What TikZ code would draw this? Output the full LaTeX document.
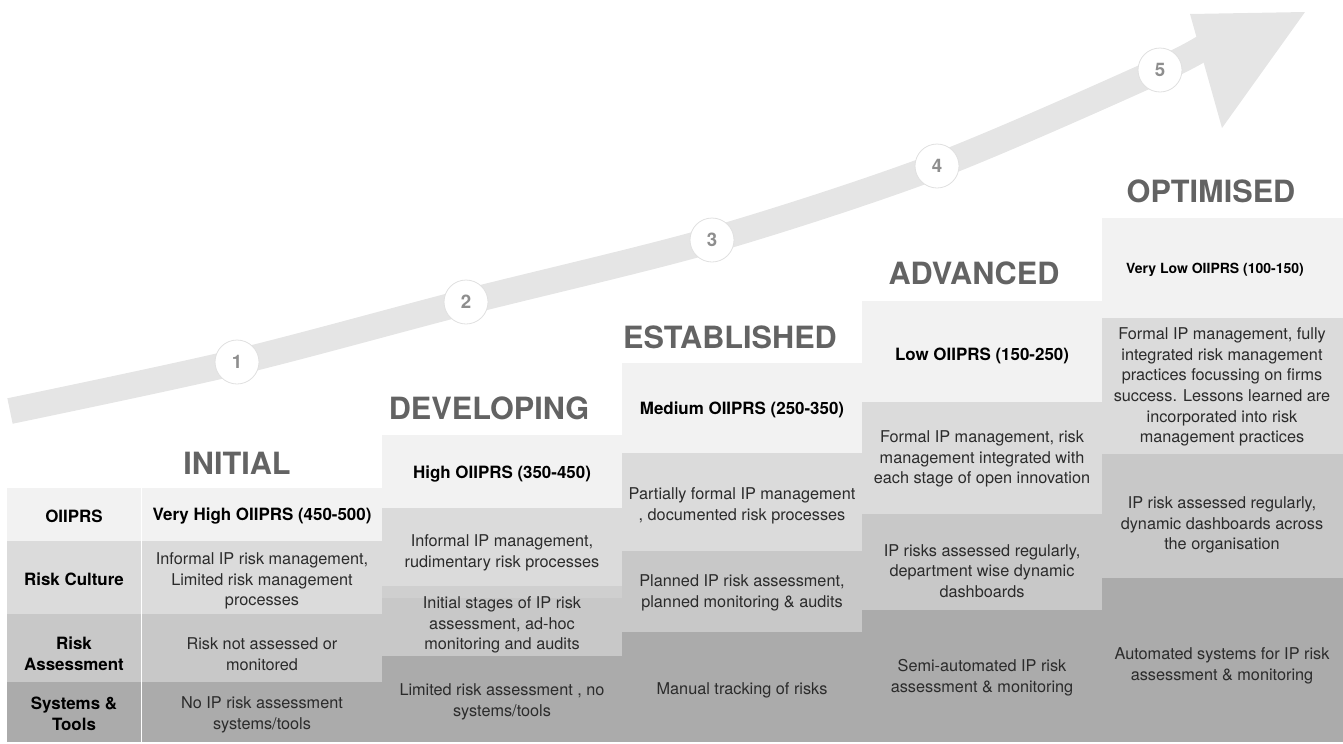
\documentclass[tikz,border=0pt]{standalone}
\usepackage{fontspec}
\setmainfont{TeX Gyre Heros}
\usepackage{tikz}
\definecolor{ArrowGrey}{HTML}{E5E5E5}
\definecolor{DotEdge}{HTML}{E0E0E0}
\definecolor{DotNumber}{HTML}{8E8E8E}
\definecolor{StageGrey}{HTML}{636363}
\definecolor{BodyText}{HTML}{2B2B2B}
\definecolor{RowScore}{HTML}{F2F2F2}
\definecolor{RowCulture}{HTML}{DBDBDB}
\definecolor{RowBand}{HTML}{CFCFCF}
\definecolor{RowAssess}{HTML}{C8C8C8}
\definecolor{RowTools}{HTML}{ABABAB}
\tikzset{
  celltext/.style={align=center,inner sep=0pt,text=BodyText,font=\fontsize{12.2}{15.5}\selectfont},
  scoretext/.style={align=center,inner sep=0pt,text=black,font=\fontsize{12.7}{15.5}\selectfont\bfseries},
  rowlabel/.style={scoretext},
  stagetitle/.style={inner sep=0pt,text=StageGrey,font=\fontsize{23}{26}\selectfont\bfseries},
  stepdot/.style={circle,fill=white,draw=DotEdge,line width=0.6pt,minimum size=33pt,inner sep=0pt,
    text=DotNumber,font=\fontsize{14}{14}\selectfont\bfseries}
}

\begin{document}
\begin{tikzpicture}[x=0.75pt,y=-0.75pt]
  \useasboundingbox (0,0) rectangle (1343,743);

  % Rising arrow
  \draw[ArrowGrey,line width=19.5pt] plot[smooth,tension=0.5] coordinates
    {(10,411) (237,362) (466,302) (712,240) (937,166) (1160,70) (1212,42)};
  \fill[ArrowGrey] (1190,14) -- (1305,12) -- (1222,128) -- cycle;

  % Step markers
  \node[stepdot] (s1) at (237,362) {1};
  \node[stepdot] (s2) at (466,302) {2};
  \node[stepdot] (s3) at (712,240) {3};
  \node[stepdot] (s4) at (937,166) {4};
  \node[stepdot] (s5) at (1160,70) {5};

  % Row labels
  \fill[RowScore]   (7,488) rectangle (141,541);
  \fill[RowCulture] (7,541) rectangle (141,614);
  \fill[RowAssess]  (7,614) rectangle (141,682);
  \fill[RowTools]   (7,682) rectangle (141,742);
  \node[rowlabel] (lscore)  at (74,516) {OIIPRS};
  \node[rowlabel] (lcult)   at (74,579) {Risk Culture};
  \node[rowlabel] (lassess) at (74,654) {Risk\\Assessment};
  \node[rowlabel] (ltools)  at (74,714) {Systems \&\\Tools};

  % Initial
  \fill[RowScore]   (142,488) rectangle (382,541);
  \fill[RowCulture] (142,541) rectangle (382,614);
  \fill[RowAssess]  (142,614) rectangle (382,682);
  \fill[RowTools]   (142,682) rectangle (382,742);
  \node[stagetitle] (t1) at (237,463) {INITIAL};
  \node[scoretext] (c1score)  at (262,516) {Very High OIIPRS (450-500)};
  \node[celltext]  (c1cult)   at (262,581) {Informal IP risk management,\\Limited risk management\\processes};
  \node[celltext]  (c1assess) at (262,654) {Risk not assessed or\\monitored};
  \node[celltext]  (c1tools)  at (262,715) {No IP risk assessment\\systems/tools};

  % Developing
  \fill[RowScore]   (382,435) rectangle (622,508);
  \fill[RowCulture] (382,508) rectangle (622,586);
  \fill[RowBand]    (382,586) rectangle (622,598);
  \fill[RowAssess]  (382,598) rectangle (622,656);
  \fill[RowTools]   (382,656) rectangle (622,742);
  \node[stagetitle] (t2) at (489,408) {DEVELOPING};
  \node[scoretext] (c2score)  at (502,474) {High OIIPRS (350-450)};
  \node[celltext]  (c2cult)   at (502,553) {Informal IP management,\\rudimentary risk processes};
  \node[celltext]  (c2assess) at (502,625) {Initial stages of IP risk\\assessment, ad-hoc\\monitoring and audits};
  \node[celltext]  (c2tools)  at (502,702) {Limited risk assessment , no\\systems/tools};

  % Established
  \fill[RowScore]   (622,363) rectangle (862,453);
  \fill[RowCulture] (622,453) rectangle (862,551);
  \fill[RowAssess]  (622,551) rectangle (862,632);
  \fill[RowTools]   (622,632) rectangle (862,742);
  \node[stagetitle] (t3) at (730,337) {ESTABLISHED};
  \node[scoretext] (c3score)  at (742,410) {Medium OIIPRS (250-350)};
  \node[celltext]  (c3cult)   at (742,506) {Partially formal IP management\\, documented risk processes};
  \node[celltext]  (c3assess) at (742,593) {Planned IP risk assessment,\\planned monitoring \& audits};
  \node[celltext]  (c3tools)  at (742,690) {Manual tracking of risks};

  % Advanced
  \fill[RowScore]   (862,301) rectangle (1102,402);
  \fill[RowCulture] (862,402) rectangle (1102,514);
  \fill[RowAssess]  (862,514) rectangle (1102,610);
  \fill[RowTools]   (862,610) rectangle (1102,742);
  \node[stagetitle] (t4) at (974,273) {ADVANCED};
  \node[scoretext] (c4score)  at (982,356) {Low OIIPRS (150-250)};
  \node[celltext]  (c4cult)   at (982,459) {Formal IP management, risk\\management integrated with\\each stage of open innovation};
  \node[celltext]  (c4assess) at (982,571) {IP risks assessed regularly,\\department wise dynamic\\dashboards};
  \node[celltext]  (c4tools)  at (982,678) {Semi-automated IP risk\\assessment \& monitoring};

  % Optimised
  \fill[RowScore]   (1102,218) rectangle (1343,318);
  \fill[RowCulture] (1102,318) rectangle (1343,454);
  \fill[RowAssess]  (1102,454) rectangle (1343,578);
  \fill[RowTools]   (1102,578) rectangle (1343,742);
  \node[stagetitle] (t5) at (1211,191) {OPTIMISED};
  \node[scoretext,font=\fontsize{10.5}{13}\selectfont\bfseries] (c5score) at (1215,270) {Very Low OIIPRS (100-150)};
  \node[celltext]  (c5cult)   at (1222,387) {Formal IP management, fully\\integrated risk management\\practices focussing on firms\\success. Lessons learned are\\incorporated into risk\\management practices};
  \node[celltext]  (c5assess) at (1222,525) {IP risk assessed regularly,\\dynamic dashboards across\\the organisation};
  \node[celltext]  (c5tools)  at (1222,666) {Automated systems for IP risk\\assessment \& monitoring};
\end{tikzpicture}
\end{document}
